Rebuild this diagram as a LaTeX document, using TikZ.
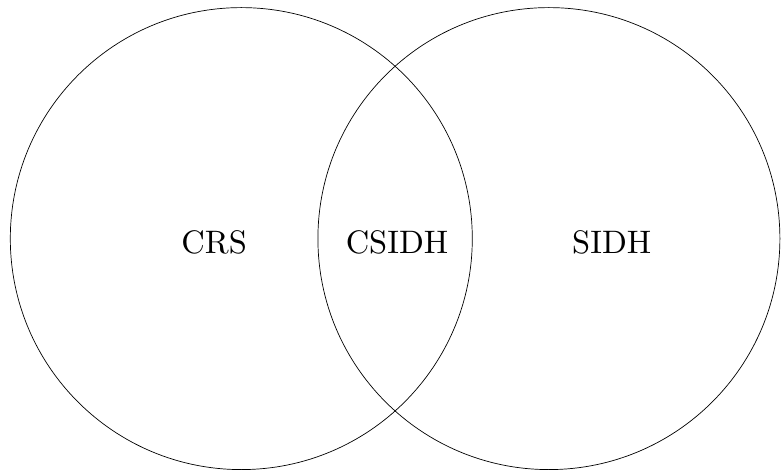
\documentclass[tikz,border=0pt]{standalone}
\usepackage{fontspec}
\tikzset{
  venn/.style={draw=black, line width=0.7pt},
  lbl/.style={font=\fontsize{10}{12}\selectfont, inner sep=0pt, anchor=base, scale=3.25, transform shape}
}
\begin{document}
\begin{tikzpicture}[x=1pt,y=-1pt]
\useasboundingbox (0,0) rectangle (781,470);
\node[venn, circle, minimum size=462pt, inner sep=0pt] (left) at (241.3,238.6) {};
\node[venn, circle, minimum size=462pt, inner sep=0pt] (right) at (548.9,238.6) {};
\node[lbl] (crs) at (214.2,253.3) {CRS};
\node[lbl] (csidh) at (397,253.3) {CSIDH};
\node[lbl] (sidh) at (611.7,253.3) {SIDH};
\end{tikzpicture}
\end{document}
